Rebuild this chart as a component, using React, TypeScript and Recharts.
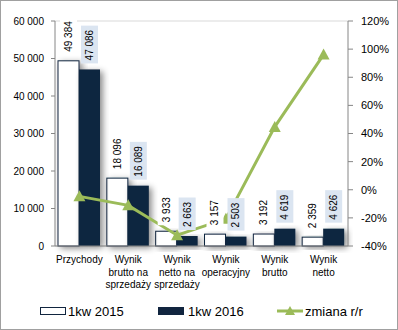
import React from "react"
import { ComposedChart, Bar, Line, XAxis, YAxis, CartesianGrid, Legend } from "recharts"

const categories = [
  "Przychody",
  "Wynik\nbrutto na\nsprzedaży",
  "Wynik\nnetto na\nsprzedaży",
  "Wynik\noperacyjny",
  "Wynik\nbrutto",
  "Wynik\nnetto",
]
const values2015 = [49384, 18096, 3933, 3157, 3192, 2359]
const values2016 = [47086, 16089, 2663, 2503, 4619, 4626]
const zmiana = [-4.7, -11.1, -32.3, -20.7, 44.7, 96.1]
const leftTicks = [0, 10000, 20000, 30000, 40000, 50000, 60000]
const rightTicks = [-40, -20, 0, 20, 40, 60, 80, 100, 120]

const data = categories.map((name, i) => ({
  name,
  y2015: values2015[i],
  y2016: values2016[i],
  zmiana: zmiana[i],
}))

const NAVY = "#11253f"
const GREEN = "#9bbb59"
const FONT = "'Liberation Sans', Arial, sans-serif"

const fmt = (v: number) => String(v).replace(/\B(?=(\d{3})+(?!\d))/g, " ")

const BarShape = (props: any) => {
  const { x, y, width, height, fill, stroke } = props
  return (
    <rect
      x={x}
      y={y}
      width={width}
      height={height}
      fill={fill}
      stroke={stroke}
      strokeWidth={stroke === "none" ? 0 : 1}
      filter="url(#barShadow)"
    />
  )
}

const makeLabel = (bg: string) => (props: any) => {
  const { x, y, width, value } = props
  const cx = x + width / 2
  const txt = fmt(value)
  const len = txt.length * 5.3 + 6
  const bottom = y - 6
  return (
    <g>
      <rect x={cx - 8.5} y={bottom - len} width={17} height={len} fill={bg} />
      <text
        x={cx + 3.5}
        y={bottom - 3}
        transform={`rotate(-90 ${cx + 3.5} ${bottom - 3})`}
        fontSize={10}
        fontFamily={FONT}
        fill="#000"
      >
        {txt}
      </text>
    </g>
  )
}

const Triangle = (props: any) => {
  const { cx, cy } = props
  if (cx == null || cy == null) return null
  return <polygon points={`${cx},${cy - 6} ${cx - 6},${cy + 5} ${cx + 6},${cy + 5}`} fill={GREEN} />
}

const CategoryTick = (props: any) => {
  const { x, y, payload } = props
  const lines = String(payload.value).split("\n")
  return (
    <text x={x} y={y + 9} textAnchor="middle" fontSize={10} fontFamily={FONT} fill="#000">
      {lines.map((l, i) => (
        <tspan key={i} x={x} dy={i === 0 ? 0 : 12.5}>
          {l}
        </tspan>
      ))}
    </text>
  )
}

const renderLegend = () => (
  <svg width={398} height={20}>
    <rect x={40.5} y={7.5} width={25} height={7} fill="#fff" stroke={NAVY} />
    <text x={68} y={16} fontSize={13} fontFamily={FONT}>1kw 2015</text>
    <rect x={158} y={7} width={26} height={8} fill={NAVY} />
    <text x={188} y={16} fontSize={13} fontFamily={FONT}>1kw 2016</text>
    <line x1={277} y1={11} x2={303} y2={11} stroke={GREEN} strokeWidth={3} />
    <polygon points="290,6 285,15 295,15" fill={GREEN} />
    <text x={305} y={16} fontSize={13} fontFamily={FONT}>zmiana r/r</text>
  </svg>
)

export default function App() {
  return (
    <div style={{ position: "absolute", left: 0, top: 0, width: 398, height: 330, background: "#fff" }}>
      <ComposedChart
        width={398}
        height={330}
        data={data}
        margin={{ top: 21, right: 0, left: 0, bottom: 0 }}
        barGap={0}
        barCategoryGap={3}
      >
        <defs>
          <filter id="barShadow" x="-20%" y="-20%" width="160%" height="160%">
            <feDropShadow dx={3} dy={2} stdDeviation={3} floodColor="#000" floodOpacity={0.45} />
          </filter>
        </defs>
        <CartesianGrid vertical={false} stroke="#d9d9d9" />
        <XAxis
          dataKey="name"
          tick={<CategoryTick />}
          tickLine={false}
          axisLine={{ stroke: "#868686" }}
          height={54}
          interval={0}
        />
        <YAxis
          yAxisId="left"
          domain={[0, 60000]}
          ticks={leftTicks}
          tickFormatter={fmt}
          width={55}
          tickSize={4}
          tickMargin={7}
          axisLine={{ stroke: "#868686" }}
          tickLine={{ stroke: "#868686" }}
          tick={{ fontSize: 10, fill: "#000", fontFamily: FONT }}
        />
        <YAxis
          yAxisId="right"
          orientation="right"
          domain={[-40, 120]}
          ticks={rightTicks}
          tickFormatter={(v: number) => `${v}%`}
          width={50}
          tickSize={5}
          tickMargin={8}
          axisLine={{ stroke: "#868686" }}
          tickLine={{ stroke: "#868686" }}
          tick={{ fontSize: 11, fill: "#000", fontFamily: FONT }}
        />
        <Legend verticalAlign="bottom" height={30} content={renderLegend} />
        <Bar
          yAxisId="left"
          dataKey="y2015"
          name="1kw 2015"
          fill="#fff"
          stroke={NAVY}
          barSize={21}
          shape={<BarShape />}
          label={makeLabel("#fff")}
          isAnimationActive={false}
        />
        <Bar
          yAxisId="left"
          dataKey="y2016"
          name="1kw 2016"
          fill={NAVY}
          stroke="none"
          barSize={21}
          shape={<BarShape />}
          label={makeLabel("#dbe5f1")}
          isAnimationActive={false}
        />
        <Line
          yAxisId="right"
          dataKey="zmiana"
          name="zmiana r/r"
          stroke={GREEN}
          strokeWidth={3}
          dot={<Triangle />}
          activeDot={false}
          isAnimationActive={false}
        />
      </ComposedChart>
      <div
        style={{
          position: "absolute",
          left: 0,
          top: 0,
          width: 398,
          height: 330,
          boxSizing: "border-box",
          border: "1px solid #a0a0a0",
          pointerEvents: "none",
        }}
      />
    </div>
  )
}
